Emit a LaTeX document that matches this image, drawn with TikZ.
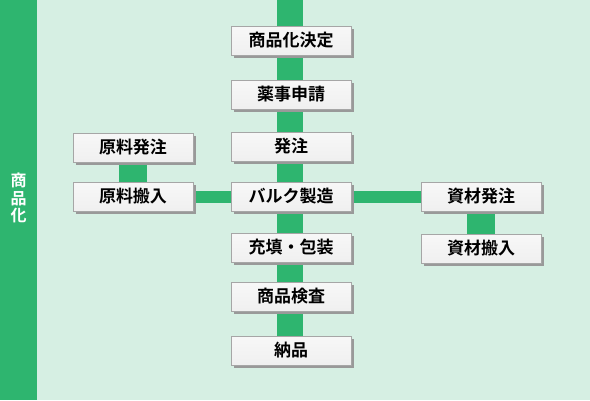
\documentclass[tikz,border=0pt]{standalone}
\usepackage{fontspec}
\newfontfamily\jpfont{Noto Sans CJK JP}[BoldFont={Noto Sans CJK JP Bold}]
\usepackage{tikz}
\usetikzlibrary{shadows, backgrounds}

\definecolor{bandgreen}{RGB}{46,181,111}
\definecolor{mint}{RGB}{214,239,227}

\tikzset{
    stepbox/.style={draw=gray!70, line width=0.5pt, minimum width=120pt, minimum height=29pt,
        inner sep=0pt, top color=gray!6, middle color=gray!28, bottom color=gray!12,
        drop shadow={shadow xshift=2.5pt, shadow yshift=-2.5pt, fill=gray!80, opacity=1},
        font=\jpfont\bfseries\fontsize{17}{17}\selectfont},
    trunk/.style={draw=bandgreen, line width=26pt},
    branch/.style={draw=bandgreen, line width=12pt},
    link/.style={draw=bandgreen, line width=28pt}
}

\begin{document}
\begin{tikzpicture}[x=1pt, y=-1pt]
    \useasboundingbox (0,0) rectangle (590,400);

    \node[stepbox] at (291, 40.5) (kettei) {商品化決定};
    \node[stepbox] at (291, 94.5) (yakuji) {薬事申請};
    \node[stepbox] at (291, 146.5) (hacchu) {発注};
    \node[stepbox] at (291, 196.5) (bulk) {バルク製造};
    \node[stepbox] at (291, 247.5) (juten) {充填・包装};
    \node[stepbox] at (291, 296.5) (kensa) {商品検査};
    \node[stepbox] at (291, 350.5) (nohin) {納品};

    \node[stepbox] at (133, 147.5) (genryo1) {原料発注};
    \node[stepbox] at (133, 196.5) (genryo2) {原料搬入};
    \node[stepbox] at (481, 196.5) (shizai1) {資材発注};
    \node[stepbox] at (481, 248.5) (shizai2) {資材搬入};

    \coordinate (top) at (290, 0);

    \begin{scope}[on background layer]
        \fill[mint] (0,0) rectangle (590,400);
        \fill[bandgreen] (0,0) rectangle (37,400);
        \draw[trunk] (top) -- (top |- nohin.north);
        \draw[branch] (genryo2.east) -- (shizai1.west);
        \draw[link] (genryo1) -- (genryo2);
        \draw[link] (shizai1) -- (shizai2);
    \end{scope}

    \node[text=white, align=center, font=\jpfont\bfseries\fontsize{16}{17.5}\selectfont]
        at (18.5, 198) (shohinka) {商\\品\\化};
\end{tikzpicture}
\end{document}
